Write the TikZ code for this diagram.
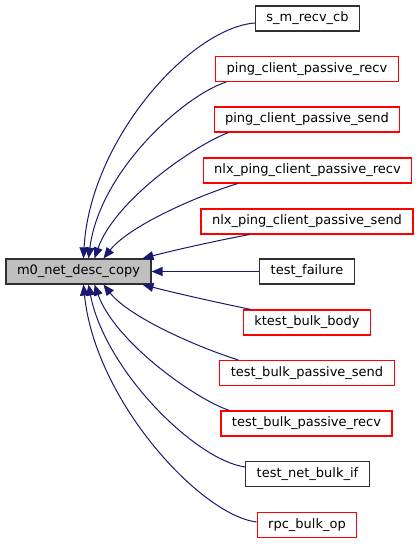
\documentclass[tikz,border=0pt]{standalone}
\usepackage{fontspec}
\setmainfont{DejaVu Sans}
\usetikzlibrary{arrows.meta,calc}
\definecolor{edgeblue}{HTML}{191970}
\definecolor{maingray}{HTML}{BFBFBF}
\definecolor{boxblack}{HTML}{303030}
\begin{document}
\begin{tikzpicture}[x=1pt,y=-1pt,
  box/.style={draw=boxblack,line width=1.1pt,fill=white,inner xsep=11pt,inner ysep=0pt,minimum height=25pt,font=\fontsize{13}{15}\selectfont},
  redbox/.style={box,draw=red},
  mainbox/.style={box,fill=maingray,draw=boxblack},
  edge/.style={draw=edgeblue,line width=1pt,-{Triangle[length=11pt,width=9pt]}}]
\useasboundingbox (0,0) rectangle (420,544);
\node[mainbox] (m) at (78.5,271.5) {m0\_net\_desc\_copy};
\node[box] (s) at (307.5,18.5) {s\_m\_recv\_cb};
\node[redbox] (pr) at (307,69) {ping\_client\_passive\_recv};
\node[redbox] (ps) at (307,119.5) {ping\_client\_passive\_send};
\node[redbox] (nr) at (307.5,170.5) {nlx\_ping\_client\_passive\_recv};
\node[redbox] (ns) at (307,221.5) {nlx\_ping\_client\_passive\_send};
\node[box] (tf) at (307,271.5) {test\_failure};
\node[redbox] (kb) at (307,322.5) {ktest\_bulk\_body};
\node[redbox] (bs) at (307,373) {test\_bulk\_passive\_send};
\node[redbox] (br) at (306.5,423.5) {test\_bulk\_passive\_recv};
\node[box] (nb) at (307.5,474) {test\_net\_bulk\_if};
\node[redbox] (rp) at (307,525) {rpc\_bulk\_op};
% upper edges
\draw[edge] ($(s.west)+(0,4.5)$) .. controls (190,28) and (90,140) .. ($(m.north west)+(78,0)$);
\draw[edge] ($(pr.south west)+(11,0)$) .. controls (185,95) and (100,170) .. ($(m.north west)+(83,0)$);
\draw[edge] ($(ps.south west)+(15,0)$) .. controls (195,145) and (115,200) .. ($(m.north west)+(89,0)$);
\draw[edge] ($(nr.south west)+(35,0)$) .. controls (200,195) and (130,225) .. ($(m.north west)+(98,0)$);
\draw[edge] ($(ns.south west)+(49,0)$) .. controls (215,241) and (175,250) .. ($(m.north west)+(137,0)$);
% middle
\draw[edge] (tf.west) -- (m.east);
% lower edges
\draw[edge] ($(kb.north west)+(8,0)$) .. controls (215,302) and (175,293) .. ($(m.south west)+(137,0)$);
\draw[edge] ($(bs.north west)+(19,0)$) .. controls (200,348) and (130,318) .. ($(m.south west)+(98,0)$);
\draw[edge] ($(br.north west)+(9,0)$) .. controls (195,399) and (115,342) .. ($(m.south west)+(89,0)$);
\draw[edge] ($(nb.west)+(0,-7)$) .. controls (195,460) and (105,370) .. ($(m.south west)+(83,0)$);
\draw[edge] ($(rp.west)+(0,-3)$) .. controls (200,515) and (95,400) .. ($(m.south west)+(78,0)$);
\end{tikzpicture}
\end{document}
